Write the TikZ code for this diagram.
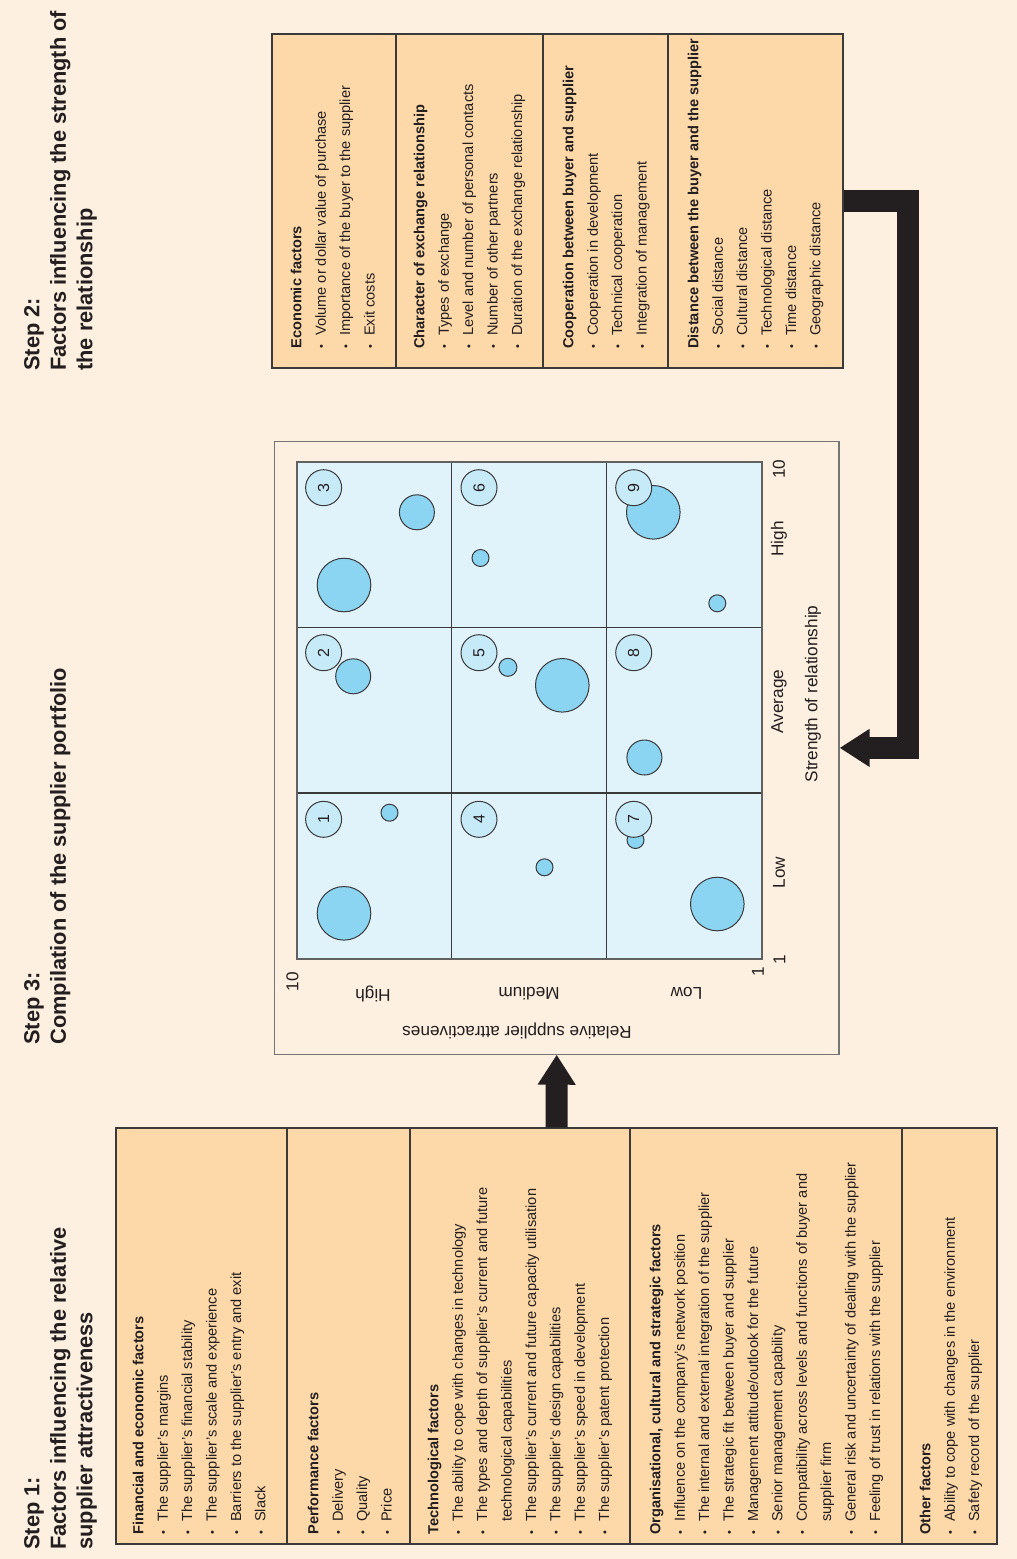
\documentclass[tikz,border=0pt]{standalone}
\usepackage{fontspec}
\setmainfont{Liberation Sans}
\usetikzlibrary{arrows.meta}

\definecolor{pagebg}{HTML}{FDF0E0}
\definecolor{boxfill}{HTML}{FDD8A8}
\definecolor{cellfill}{HTML}{E1F3FA}
\definecolor{bubble}{HTML}{8BD4F2}
\definecolor{numfill}{HTML}{C7EAF8}
\definecolor{ink}{HTML}{231F20}
\definecolor{rulec}{HTML}{3A3A3A}

% bullet with fixed indent, continuation indent, first-line strut
\newcommand\bul{\makebox[6.4pt][l]{\raisebox{0.3pt}{\scalebox{0.75}{\textbullet}}}}
\newcommand\ind{\hspace*{6.4pt}}
\newcommand\fl{\rule{0pt}{6pt}}

\begin{document}
\begin{tikzpicture}[x=0.5pt,y=-0.5pt,
  title/.style={rotate=90, anchor=north west, inner sep=0pt, align=left,
    font=\fontsize{10.9pt}{13.25pt}\selectfont\bfseries, text=ink},
  factors/.style={rotate=90, anchor=north west, inner sep=0pt, align=left,
    font=\fontsize{7.3pt}{12.2pt}\selectfont, text=ink},
  stepbox/.style={draw=rulec, fill=boxfill, line width=0.6pt, inner sep=0pt},
  divider/.style={draw=rulec, line width=0.6pt},
  axislbl/.style={rotate=90, inner sep=0pt, font=\fontsize{8.6pt}{10pt}\selectfont, text=ink},
  ylbl/.style={rotate=180, inner sep=0pt, font=\fontsize{8.6pt}{10pt}\selectfont, text=ink},
  bub/.style={draw=rulec, fill=bubble, line width=0.5pt},
  numc/.style={circle, draw=rulec, fill=numfill, line width=0.5pt, minimum size=18pt,
    inner sep=0pt, rotate=90, font=\fontsize{8pt}{9pt}\selectfont, text=ink},
  bigarrow/.style={draw=ink, line width=11pt, line join=miter,
    -{Triangle[length=15pt,width=18pt]}}
]
\useasboundingbox (0,0) rectangle (1017,1559);
\fill[pagebg] (0,0) rectangle (1017,1559);

% ---------- headings ----------
\node[title] (t1) at (21,1550) {\rule{0pt}{9pt}Step 1:\\Factors influencing the relative\\supplier attractiveness};
\node[title] (t2) at (21,371) {\rule{0pt}{9pt}Step 2:\\Factors influencing the strength of\\the relationship};
\node[title] (t3) at (21,1045) {\rule{0pt}{9pt}Step 3:\\Compilation of the supplier portfolio};

% ---------- step 1 box ----------
\node[stepbox, minimum width=440.5pt, minimum height=208pt] (s1) at (556.5,1336) {};
\foreach \d in {287,410,630,902}
  \draw[divider] (\d,1128) -- (\d,1544);

\node[factors] (fin) at (131,1535) {\fl\textbf{Financial and economic factors}\\
\bul The supplier's margins\\
\bul The supplier's financial stability\\
\bul The supplier's scale and experience\\
\bul Barriers to the supplier's entry and exit\\
\bul Slack};

\node[factors] (perf) at (306,1535) {\fl\textbf{Performance factors}\\
\bul Delivery\\
\bul Quality\\
\bul Price};

\node[factors] (tech) at (426,1535) {\fl\textbf{Technological factors}\\
\bul The ability to cope with changes in technology\\
\bul The types and depth of supplier's current and future\\
\ind technological capabilities\\
\bul The supplier's current and future capacity utilisation\\
\bul The supplier's design capabilities\\
\bul The supplier's speed in development\\
\bul The supplier's patent protection};

\node[factors] (org) at (648,1535) {\fl\textbf{Organisational, cultural and strategic factors}\\
\bul Influence on the company's network position\\
\bul The internal and external integration of the supplier\\
\bul The strategic fit between buyer and supplier\\
\bul Management attitude/outlook for the future\\
\bul Senior management capability\\
\bul Compatibility across levels and functions of buyer and\\
\ind supplier firm\\
\bul General risk and uncertainty of dealing with the supplier\\
\bul Feeling of trust in relations with the supplier};

\node[factors] (oth) at (918,1535) {\fl\textbf{Other factors}\\
\bul Ability to cope with changes in the environment\\
\bul Safety record of the supplier};

% ---------- step 2 box ----------
\node[stepbox, minimum width=285.5pt, minimum height=167pt] (s2) at (557.5,201) {};
\foreach \d in {396,543,668}
  \draw[divider] (\d,34) -- (\d,368);

\node[factors] (eco) at (289,349) {\fl\textbf{Economic factors}\\
\bul Volume or dollar value of purchase\\
\bul Importance of the buyer to the supplier\\
\bul Exit costs};

\node[factors] (chr) at (412,349) {\fl\textbf{Character of exchange relationship}\\
\bul Types of exchange\\
\bul Level and number of personal contacts\\
\bul Number of other partners\\
\bul Duration of the exchange relationship};

\node[factors] (coop) at (561,349) {\fl\textbf{Cooperation between buyer and supplier}\\
\bul Cooperation in development\\
\bul Technical cooperation\\
\bul Integration of management};

\node[factors] (dist) at (686,349) {\fl\textbf{Distance between the buyer and the supplier}\\
\bul Social distance\\
\bul Cultural distance\\
\bul Technological distance\\
\bul Time distance\\
\bul Geographic distance};

% ---------- step 3: portfolio matrix ----------
\node[draw=rulec!70, fill=pagebg, line width=0.6pt, inner sep=0pt,
  minimum width=282.3pt, minimum height=306.2pt] (mx) at (556.7,747.9) {};

\fill[cellfill] (297,462) rectangle (762,959);
\foreach \g in {451.5,606.5}
  \draw[rulec, line width=0.6pt] (\g,462) -- (\g,959);
\foreach \g in {627.5,793}
  \draw[rulec, line width=0.6pt] (297,\g) -- (762,\g);
\draw[rulec!80, line width=0.6pt] (297,462) rectangle (762,959);

% suppliers (size = purchase volume)
\foreach \bx/\by/\br in {
  344/913.3/26.8, 389.5/812.7/8.5,
  353.2/676.3/17.5,
  344/585/26.8, 416.9/512.3/17.5,
  544.5/867.3/8.5,
  507.9/667.3/9, 562.3/685.3/26.8,
  480.5/558/8.5,
  635.5/840/8.5, 717.3/904/26.8,
  644.4/757.5/17.5,
  653.3/512.3/26.8, 717.3/603.3/8.5}
  \draw[bub] (\bx,\by) circle[radius=\br*0.5pt];

% cell numbers
\node[numc] (n1) at (323.6,819.3) {1};
\node[numc] (n2) at (323.6,652.7) {2};
\node[numc] (n3) at (323.6,487.7) {3};
\node[numc] (n4) at (479,819.3) {4};
\node[numc] (n5) at (479,652.7) {5};
\node[numc] (n6) at (479,487.7) {6};
\node[numc] (n7) at (633.7,819.3) {7};
\node[numc] (n8) at (633.7,652.7) {8};
\node[numc] (n9) at (633.7,487.7) {9};

% strength-of-relationship axis
\node[axislbl] (xa1) at (779.5,959.5) {1};
\node[axislbl] (xlo) at (779,872.5) {Low};
\node[axislbl] (xav) at (779,701.5) {Average};
\node[axislbl] (xhi) at (779,539) {High};
\node[axislbl] (xa10) at (779,469) {10};
\node[axislbl] (xttl) at (813,694) {Strength of relationship};

% attractiveness axis
\node[axislbl] (ya10) at (292.5,981.5) {10};
\node[axislbl] (ya1) at (758,971.5) {1};
\node[ylbl] (yhi) at (373,993.5) {High};
\node[ylbl] (ymd) at (529,993.5) {Medium};
\node[ylbl] (ylo) at (686.5,993.5) {Low};
\node[ylbl] (yttl) at (517,1031) {Relative supplier attractivenes};

% ---------- flow arrows ----------
\draw[bigarrow] (s1.north) -- (mx.south);
\draw[bigarrow] (s2.east) -- ++(64,0) coordinate (bend) |- (mx.east);

\end{tikzpicture}
\end{document}
